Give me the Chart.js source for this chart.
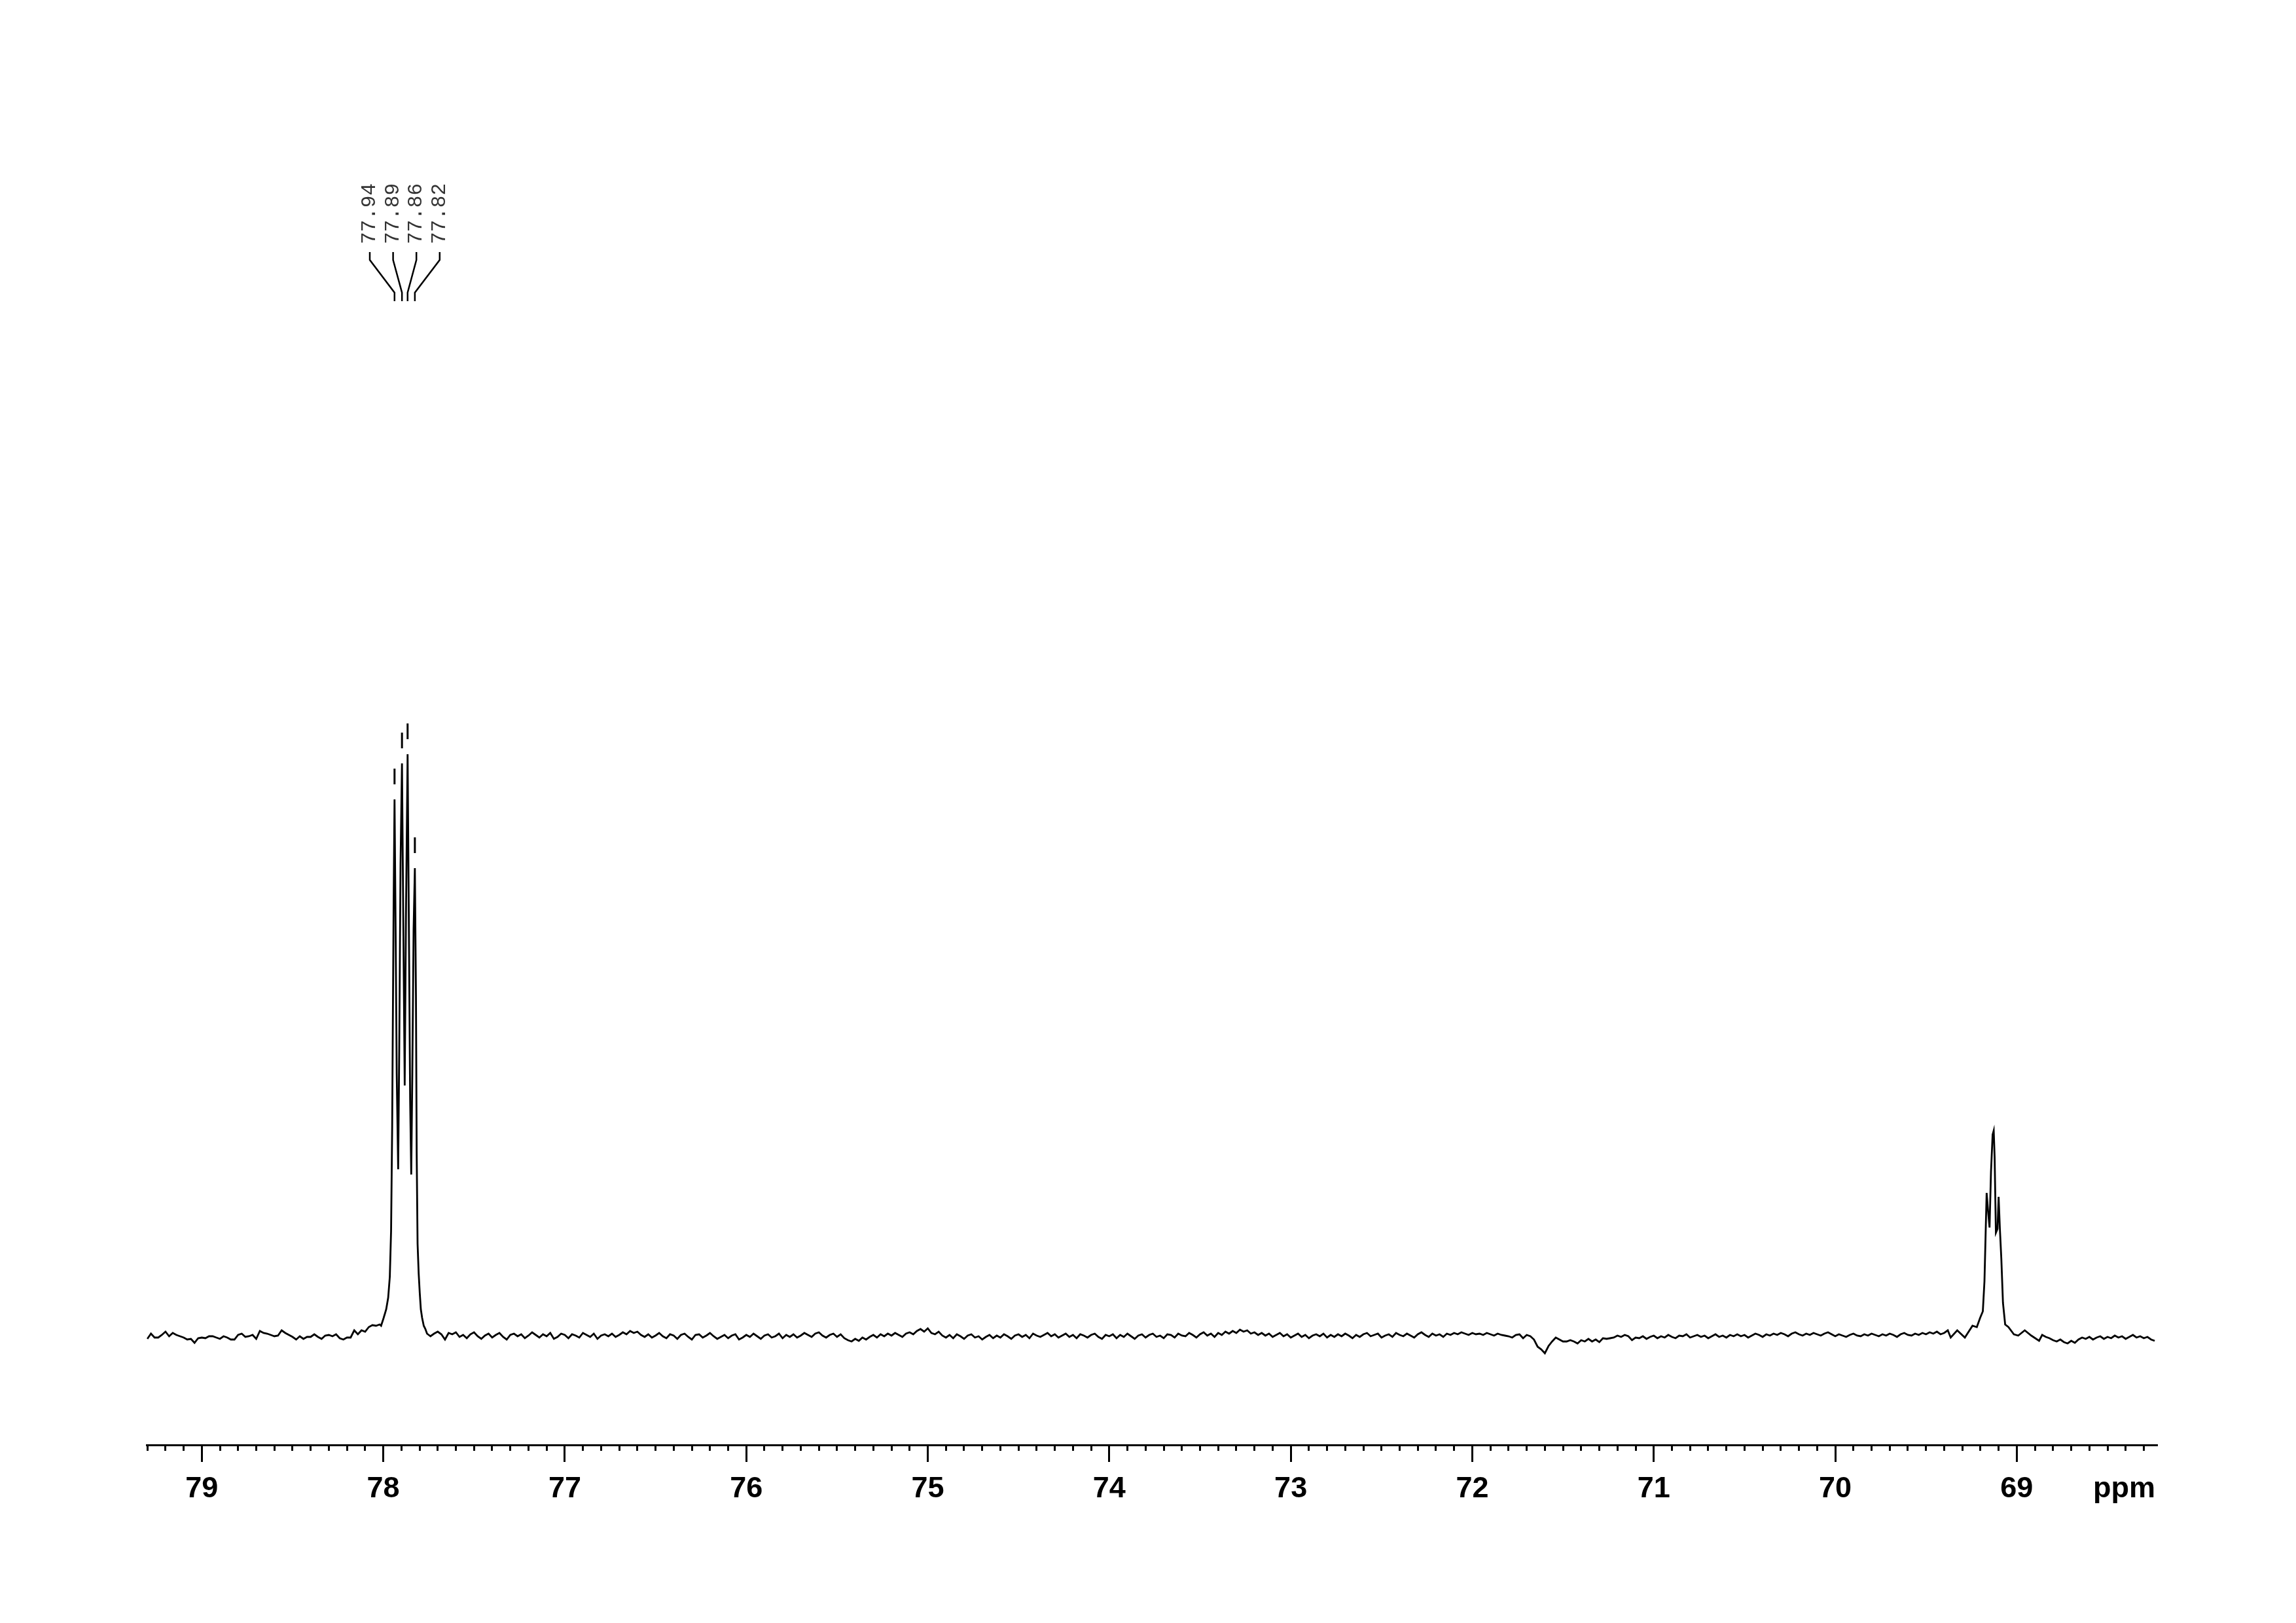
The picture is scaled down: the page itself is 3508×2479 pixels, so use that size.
<!DOCTYPE html>
<html><head><meta charset="utf-8">
<script src="https://cdn.jsdelivr.net/npm/chart.js@4.4.1/dist/chart.umd.min.js"></script>
<style>html,body{margin:0;padding:0;background:#fff;}canvas{display:block;}</style>
</head><body>
<canvas id="c" width="3508" height="2479"></canvas>
<script>
// ---- axis range (ppm, reversed) ----
const xMin = 68.226, xMax = 79.304;
const yMin = -16.7, yMax = 194;
const majorTicks = [79, 78, 77, 76, 75, 74, 73, 72, 71, 70, 69];
const axisUnit = 'ppm';

// ---- picked peaks of the multiplet ----
const peakPpm = [77.938, 77.897, 77.866, 77.826];
const peakHeight = [81.9, 87.4, 88.8, 71.4];
const peakLabels = ['77.94', '77.89', '77.86', '77.82'];

// ---- spectrum trace, left baseline 79.30 -> 78.10 (0.02 ppm step) ----
const leftStart = 79.30;
const leftBaseline = [
 -0.5, 0.3, -0.3, -0.3, 0.1, 0.6, -0.1, 0.4, 0.1, -0.1,
 -0.3, -0.6, -0.5, -1.1, -0.4, -0.3, -0.4, -0.1, -0.1, -0.3,
 -0.5, -0.1, -0.3, -0.6, -0.6, 0.1, 0.3, -0.2, -0.1, 0.1,
 -0.5, 0.7, 0.4, 0.3, 0.1, -0.1, 0.0, 0.8, 0.4, 0.1,
 -0.2, -0.6, -0.1, -0.5, -0.2, -0.2, 0.2, -0.2, -0.5, 0.0,
 0.1, -0.1, 0.2, -0.4, -0.6, -0.3, -0.3, 0.8, 0.2, 0.8,
 0.6
];

// ---- CDCl3 multiplet ----
const multipletPpm = [78.08, 78.06, 78.04, 78.02, 78.012, 77.998, 77.984, 77.973, 77.964, 77.957,
 77.951, 77.948, 77.943, 77.938, 77.932, 77.926, 77.918, 77.912, 77.905, 77.897,
 77.890, 77.882, 77.875, 77.866, 77.858, 77.852, 77.846, 77.840, 77.833, 77.826,
 77.820, 77.816, 77.811, 77.805, 77.799, 77.793, 77.786, 77.777, 77.768, 77.759];
const multipletInt = [1.3, 1.6, 1.5, 1.7, 1.5, 2.7, 4.0, 5.8, 9.0, 16,
 32, 45, 66, 81.9, 62, 40, 25.4, 44, 72, 87.4,
 64, 38.2, 64, 88.8, 59, 36, 24.6, 40, 62, 71.4,
 52, 28, 14, 9.5, 6.5, 4.0, 2.7, 1.5, 1.0, 0.3];

// ---- middle baseline 77.74 -> 69.38 (0.02 ppm step) ----
const midStart = 77.74;
const midBaseline = [
 -0.1, 0.3, 0.6, 0.2, -0.6, 0.4, 0.2, 0.5, -0.2, 0.1,
 -0.4, 0.2, 0.5, -0.1, -0.5, 0.0, 0.3, -0.3, 0.1, 0.4,
 -0.2, -0.6, 0.1, 0.3, -0.1, 0.2, -0.4, 0.0, 0.5, 0.1,
 -0.3, 0.2, -0.1, 0.4, -0.5, -0.2, 0.3, 0.1, -0.4, 0.2,
 0.0, -0.3, 0.4, 0.1, -0.2, 0.3, -0.5, 0.0, 0.2, -0.1,
 0.3, -0.2, 0.1, 0.5, 0.2, 0.7, 0.4, 0.6, 0.1, -0.2,
 0.2, -0.3, 0.0, 0.4, -0.1, -0.4, 0.2, 0.0, -0.5, 0.1,
 0.3, -0.2, -0.6, 0.1, 0.2, -0.3, 0.0, 0.4, -0.1, -0.5,
 -0.2, 0.1, -0.4, 0.0, 0.2, -0.6, -0.3, 0.1, -0.2, 0.3,
 -0.1, -0.5, 0.0, 0.2, -0.3, -0.1, 0.3, -0.4, 0.1, -0.2,
 0.2, -0.3, 0.0, 0.4, 0.1, -0.2, 0.3, 0.5, 0.0, -0.3,
 0.1, 0.3, -0.2, 0.2, -0.4, -0.7, -0.9, -0.5, -0.8, -0.3,
 -0.6, -0.2, 0.1, -0.3, 0.2, -0.1, 0.3, 0.0, 0.4, 0.1,
 -0.2, 0.3, 0.5, 0.2, 0.7, 1.0, 0.6, 1.1, 0.4, 0.2,
 0.6, 0.0, -0.3, 0.1, -0.4, 0.2, -0.1, -0.5, 0.0, 0.2,
 -0.3, -0.1, -0.6, -0.2, 0.1, -0.4, 0.0, -0.3, 0.2, -0.1,
 -0.5, 0.0, 0.2, -0.2, 0.1, -0.4, 0.3, 0.0, -0.2, 0.1,
 0.4, -0.1, 0.2, -0.3, 0.0, 0.3, -0.2, 0.1, -0.4, 0.2,
 0.0, -0.3, 0.1, 0.3, -0.2, -0.5, 0.1, -0.1, 0.2, -0.4,
 0.1, -0.2, 0.3, -0.1, -0.5, 0.0, 0.2, -0.3, 0.1, 0.3,
 -0.2, 0.0, -0.4, 0.2, 0.1, -0.3, 0.3, 0.0, -0.1, 0.4,
 0.1, -0.3, 0.2, 0.5, 0.0, 0.3, -0.2, 0.4, 0.1, 0.6,
 0.3, 0.7, 0.4, 0.9, 0.6, 0.8, 0.3, 0.5, 0.1, 0.4,
 0.0, 0.3, -0.2, 0.1, 0.4, -0.1, 0.2, -0.3, 0.0, 0.3,
 -0.2, 0.1, -0.4, 0.0, 0.2, -0.1, 0.3, -0.3, 0.1, -0.2,
 0.2, -0.1, 0.3, 0.0, -0.4, 0.1, -0.2, 0.2, 0.4, -0.1,
 0.1, 0.3, -0.3, 0.0, 0.2, -0.2, 0.4, 0.1, -0.1, 0.3,
 0.0, -0.3, 0.2, 0.5, 0.1, -0.2, 0.3, 0.0, 0.2, -0.2,
 0.3, 0.1, 0.4, 0.2, 0.5, 0.3, 0.1, 0.4, 0.2, 0.3,
 0.1, 0.4, 0.2, 0.0, 0.3, 0.1, 0.0, -0.1, -0.3, 0.1,
 0.2, -0.4, 0.1, -0.1, -0.6, -1.7, -2.1, -2.7, -1.6, -0.9,
 -0.3, -0.6, -0.9, -0.9, -0.7, -0.9, -1.2, -0.7, -0.9, -0.5,
 -0.9, -0.6, -1.0, -0.4, -0.5, -0.4, -0.3, 0.0, -0.2, 0.1,
 -0.1, -0.7, -0.3, -0.4, -0.1, -0.5, -0.2, 0.0, -0.4, -0.1,
 -0.3, 0.1, -0.2, -0.4, 0.0, -0.1, 0.2, -0.3, -0.1, 0.1,
 -0.2, 0.0, -0.4, -0.1, 0.2, -0.2, 0.0, -0.3, 0.1, -0.1,
 0.2, -0.1, 0.1, -0.3, 0.0, 0.3, 0.1, -0.2, 0.2, 0.0,
 0.3, 0.1, 0.4, 0.2, -0.1, 0.3, 0.5, 0.2, 0.0, 0.3,
 0.1, 0.4, 0.2, 0.0, 0.3, 0.5, 0.2, -0.1, 0.2, 0.0,
 -0.2, 0.1, 0.3, 0.0, -0.1, 0.2, 0.0, 0.3, 0.1, -0.1,
 0.2, 0.0, 0.3, 0.1, -0.2, 0.2, 0.4, 0.1, 0.0, 0.3,
 0.1, 0.4, 0.2, 0.5, 0.3, 0.6, 0.2, 0.4, 0.8
];

// ---- peak near 69.1 ppm ----
const peak69Ppm = [69.364, 69.328, 69.286, 69.244, 69.220, 69.202, 69.187, 69.178, 69.172, 69.166,
 69.158, 69.150, 69.142, 69.133, 69.127, 69.122, 69.115, 69.106, 69.100, 69.093,
 69.085, 69.076, 69.064, 69.046, 69.016, 68.992, 68.956, 68.920, 68.877];
const peak69Int = [-0.3, 0.8, -0.3, 1.5, 1.3, 2.7, 3.7, 8.3, 15.0, 21.8,
 19.0, 16.5, 25.0, 30.7, 31.3, 27.3, 15.7, 16.3, 21.2, 16.3,
 11.7, 5.0, 1.7, 1.3, 0.2, 0.0, 0.8, 0.0, -0.8];

// ---- right baseline 68.86 -> 68.24 (0.02 ppm step) ----
const rightStart = 68.86;
const rightBaseline = [
 0.1, -0.2, -0.4, -0.7, -0.9, -0.6, -1.0, -1.2, -0.8, -1.1,
 -0.6, -0.3, -0.5, -0.2, -0.6, -0.3, -0.1, -0.5, -0.2, -0.4,
 0.0, -0.3, -0.1, -0.5, -0.2, 0.1, -0.3, -0.1, -0.4, -0.2,
 -0.6, -0.8
];
const sampleStep = 0.02;

// ---- assemble trace ----
const trace = [];
function addUniform(start, vals) {
  vals.forEach((v, i) => trace.push({x: +(start - i * sampleStep).toFixed(3), y: v}));
}
function addPairs(ppm, ints) {
  ppm.forEach((p, i) => trace.push({x: p, y: ints[i]}));
}
addUniform(leftStart, leftBaseline);
addPairs(multipletPpm, multipletInt);
addUniform(midStart, midBaseline);
addPairs(peak69Ppm, peak69Int);
addUniform(rightStart, rightBaseline);

const isMajor = v => majorTicks.some(m => Math.abs(m - v) < 1e-6);
const TICK_LEN = 26, TICK_PAD = 15, LABEL_SIZE = 45;
const labelFont = '"Liberation Sans", Arial, sans-serif';

const annotations = {
  id: 'annotations',
  afterDraw(chart) {
    const {ctx, scales: {x, y}} = chart;
    ctx.save();
    // axis unit
    ctx.fillStyle = '#000';
    ctx.font = 'bold ' + LABEL_SIZE + 'px ' + labelFont;
    ctx.textAlign = 'right';
    ctx.textBaseline = 'middle';
    ctx.fillText(axisUnit, x.right - 3, x.top + TICK_LEN + TICK_PAD + LABEL_SIZE * 0.6);

    // peak markers and labels
    const px = peakPpm.map(p => x.getPixelForValue(p));
    const mean = px.reduce((a, b) => a + b, 0) / px.length;
    const gap = 35.6;
    ctx.strokeStyle = '#000';
    ctx.lineWidth = 3;
    px.forEach((p, i) => {
      const top = y.getPixelForValue(peakHeight[i]);
      ctx.beginPath();
      ctx.moveTo(p, top - 23);
      ctx.lineTo(p, top - 47);
      ctx.stroke();
    });
    ctx.lineWidth = 2.5;
    px.forEach((p, i) => {
      const cx = mean + (i - (px.length - 1) / 2) * gap;
      ctx.beginPath();
      ctx.moveTo(cx, 385);
      ctx.lineTo(cx, 397);
      ctx.lineTo(p, 447);
      ctx.lineTo(p, 460);
      ctx.stroke();
      ctx.save();
      ctx.translate(cx, 373);
      ctx.rotate(-Math.PI / 2);
      ctx.font = '31px "Liberation Mono", "Courier New", monospace';
      ctx.fillStyle = '#333';
      ctx.textAlign = 'left';
      ctx.textBaseline = 'middle';
      ctx.fillText(peakLabels[i], 0, 0);
      ctx.restore();
    });
    ctx.restore();
  }
};

new Chart(document.getElementById('c'), {
  type: 'line',
  data: {datasets: [{
    data: trace,
    borderColor: '#000',
    borderWidth: 2.8,
    pointRadius: 0,
    tension: 0,
    fill: false
  }]},
  options: {
    responsive: false,
    animation: false,
    devicePixelRatio: 1,
    layout: {padding: {left: 224, right: 212, top: 100, bottom: 162}},
    plugins: {legend: {display: false}, tooltip: {enabled: false}},
    scales: {
      x: {
        type: 'linear', reverse: true, min: xMin, max: xMax, position: 'bottom',
        border: {display: true, color: '#000', width: 3},
        grid: {
          drawOnChartArea: false, drawTicks: true, tickLength: TICK_LEN,
          tickWidth: 3, tickColor: '#000',
          tickBorderDash: c => (c.tick && !isMajor(c.tick.value)) ? [7, 200] : []
        },
        ticks: {
          stepSize: 0.1, autoSkip: false, maxRotation: 0, minRotation: 0,
          includeBounds: false, padding: TICK_PAD, color: '#000',
          font: {family: labelFont, size: LABEL_SIZE, weight: 'bold'},
          callback: v => isMajor(v) ? String(Math.round(v)) : ''
        }
      },
      y: {display: false, min: yMin, max: yMax}
    }
  },
  plugins: [annotations]
});
</script>
</body></html>
